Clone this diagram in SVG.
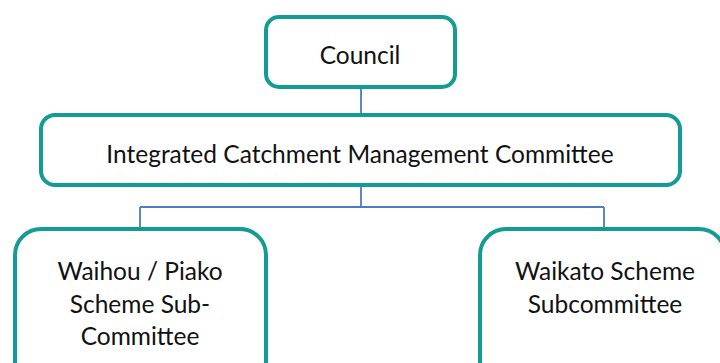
<svg xmlns="http://www.w3.org/2000/svg" width="720" height="363" viewBox="0 0 720 363">
<style>
.box{fill:#ffffff;stroke:#139C95;stroke-width:4}
.lbl{font-family:Lato,"Liberation Sans",sans-serif;font-size:24.5px;fill:#111111;text-anchor:middle}
.con{fill:none;stroke:#4F7AC4;stroke-width:1.8}
</style>
<rect width="720" height="363" fill="#ffffff"/>
<g id="connectors">
<path class="con" d="M361 88V115"/>
<path class="con" d="M361 185V207M140 207H604M140 207V228M604 207V228"/>
</g>
<g id="council">
<rect class="box" x="266" y="17" width="189" height="70" rx="13"/>
<text class="lbl" x="360" y="64">Council</text>
</g>
<g id="icmc">
<rect class="box" x="41" y="115" width="639" height="70" rx="14"/>
<text class="lbl" x="360" y="163">Integrated Catchment Management Committee</text>
</g>
<g id="waihou">
<rect class="box" x="15" y="229" width="251" height="160" rx="26"/>
<text class="lbl" x="140" y="280">Waihou / Piako</text>
<text class="lbl" x="140" y="313">Scheme Sub-</text>
<text class="lbl" x="140" y="345">Committee</text>
</g>
<g id="waikato">
<rect class="box" x="480" y="229" width="245" height="160" rx="26"/>
<text class="lbl" x="605" y="280">Waikato Scheme</text>
<text class="lbl" x="605" y="313">Subcommittee</text>
</g>
</svg>
